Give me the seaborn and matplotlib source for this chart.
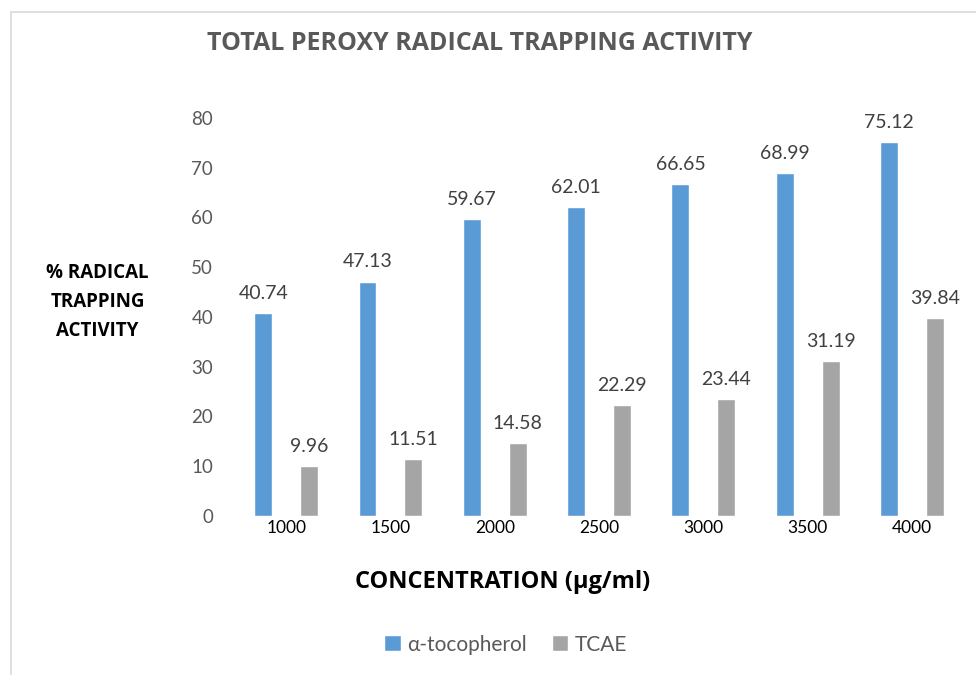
import pandas as pd
import matplotlib
matplotlib.use("Agg")
import matplotlib.pyplot as plt
import seaborn as sns
from matplotlib.patches import Rectangle

concentrations = ["1000", "1500", "2000", "2500", "3000", "3500", "4000"]
tocopherol = [40.74, 47.13, 59.67, 62.01, 66.65, 68.99, 75.12]
tcae = [9.96, 11.51, 14.58, 22.29, 23.44, 31.19, 39.84]
series_names = ["α-tocopherol", "TCAE"]

df = pd.DataFrame({
    "conc": concentrations * 2,
    "value": tocopherol + tcae,
    "series": [series_names[0]] * len(tocopherol) + [series_names[1]] * len(tcae),
})

sns.set_theme(style="white")
plt.rcParams["font.family"] = ["Lato", "DejaVu Sans"]
bold_font = ["Open Sans", "DejaVu Sans"]

fig = plt.figure(figsize=(9.76, 6.75), dpi=100)
ax = fig.add_axes([0.2398, 0.2356, 0.748, 0.5896])

sns.barplot(data=df, x="conc", y="value", hue="series", order=concentrations,
            hue_order=series_names, palette=["#5B9BD5", "#A5A5A5"], saturation=1,
            width=0.88, gap=0.61, ax=ax, legend=True)

for cont in ax.containers:
    ax.bar_label(cont, fmt="%.2f", padding=8, fontsize=14, color="#404040")

ax.set_xlim(-0.5, 6.5)
ax.set_ylim(0, 80)
ax.set_yticks(range(0, 81, 10))
ax.tick_params(axis="y", labelsize=13.5, labelcolor="#595959", length=0, pad=15)
ax.tick_params(axis="x", labelsize=12.5, labelcolor="black", length=0, pad=3)
for s in ax.spines.values():
    s.set_visible(False)
ax.set_xlabel("")
ax.set_ylabel("")

fig.text(0.492, 0.936, "TOTAL PEROXY RADICAL TRAPPING ACTIVITY", ha="center", va="center",
         fontsize=18, fontweight="bold", color="#595959", family=bold_font)
fig.text(0.515, 0.138, "CONCENTRATION (μg/ml)", ha="center", va="center",
         fontsize=17, fontweight="bold", color="black", family=bold_font)
fig.text(0.100, 0.553, "% RADICAL\nTRAPPING\nACTIVITY", ha="center", va="center",
         fontsize=13.5, fontweight="bold", color="black", linespacing=1.6, family=bold_font)

ax.legend(loc="center", bbox_to_anchor=(0.518, 0.045), bbox_transform=fig.transFigure,
          ncol=2, frameon=False, fontsize=15, handlelength=0.8, handleheight=0.8,
          handletextpad=0.3, columnspacing=1.2, labelcolor="#595959")

fig.patches.append(Rectangle((0.011, -0.05), 1.05, 1.032, transform=fig.transFigure,
                             fill=False, edgecolor="#D9D9D9", linewidth=1.2))

fig.savefig("out.png", dpi=100, facecolor="white")
